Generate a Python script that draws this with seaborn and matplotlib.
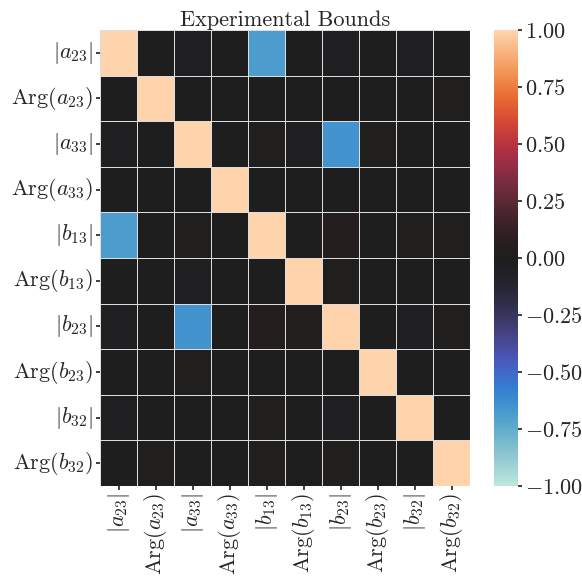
import numpy as np
import pandas as pd
import matplotlib
matplotlib.use("Agg")
import matplotlib.pyplot as plt
from matplotlib.ticker import FuncFormatter
import seaborn as sns

# parameter labels
labels = [r'$|a_{23}|$', r'$\mathrm{Arg}(a_{23})$',
          r'$|a_{33}|$', r'$\mathrm{Arg}(a_{33})$',
          r'$|b_{13}|$', r'$\mathrm{Arg}(b_{13})$',
          r'$|b_{23}|$', r'$\mathrm{Arg}(b_{23})$',
          r'$|b_{32}|$', r'$\mathrm{Arg}(b_{32})$']

# correlation rows
r_a23_abs = [1.00, 0.00, -0.03, 0.00, -0.68, 0.00, -0.02, 0.00, -0.02, -0.01]
r_a23_arg = [0.00, 1.00, 0.00, 0.00, 0.00, 0.00, 0.00, 0.00, 0.00, 0.02]
r_a33_abs = [-0.03, 0.00, 1.00, 0.00, 0.02, -0.02, -0.65, 0.02, 0.00, 0.00]
r_a33_arg = [0.00, 0.00, 0.00, 1.00, 0.00, 0.00, 0.00, 0.00, 0.00, 0.00]
r_b13_abs = [-0.68, 0.00, 0.02, 0.00, 1.00, 0.00, 0.04, 0.00, 0.02, 0.02]
r_b13_arg = [0.00, 0.00, -0.02, 0.00, 0.00, 1.00, 0.02, 0.00, 0.00, 0.00]
r_b23_abs = [-0.02, 0.00, -0.65, 0.00, 0.04, 0.02, 1.00, 0.00, -0.02, 0.02]
r_b23_arg = [0.00, 0.00, 0.02, 0.00, 0.00, 0.00, 0.00, 1.00, 0.00, 0.00]
r_b32_abs = [-0.02, 0.00, 0.00, 0.00, 0.02, 0.00, -0.02, 0.00, 1.00, 0.00]
r_b32_arg = [-0.01, 0.02, 0.00, 0.00, 0.02, 0.00, 0.02, 0.00, 0.00, 1.00]

cbar_ticks = [-1, -0.75, -0.5, -0.25, 0, 0.25, 0.5, 0.75, 1]

corr = pd.DataFrame([r_a23_abs, r_a23_arg, r_a33_abs, r_a33_arg,
                     r_b13_abs, r_b13_arg, r_b23_abs, r_b23_arg,
                     r_b32_abs, r_b32_arg], index=labels, columns=labels)

sns.set_theme(style="white")
plt.rcParams['font.family'] = 'serif'
plt.rcParams['font.serif'] = ['cmr10', 'DejaVu Serif']
plt.rcParams['mathtext.fontset'] = 'cm'
plt.rcParams['axes.formatter.use_mathtext'] = True

fig = plt.figure(figsize=(5.82, 5.79), dpi=100)
ax = fig.add_axes([100 / 582, 1 - 486 / 579, 370 / 582, 456 / 579])
cax = fig.add_axes([494 / 582, 1 - 486 / 579, 24 / 582, 456 / 579])

sns.heatmap(corr, cmap='icefire', vmin=-1, vmax=1, linewidths=0.5,
            linecolor='#dddddd', ax=ax, cbar_ax=cax,
            cbar_kws={'ticks': cbar_ticks,
                      'format': FuncFormatter(lambda v, p: r'$%.2f$' % v)})
ax.set_title('Experimental Bounds', fontsize=16, pad=3)
ax.tick_params(axis='both', labelsize=16, length=3, pad=2, left=True, bottom=True)
plt.setp(ax.get_xticklabels(), rotation=90)
plt.setp(ax.get_yticklabels(), rotation=0)
cax.tick_params(labelsize=16, length=3, pad=2)

fig.savefig('out.png', dpi=100)
